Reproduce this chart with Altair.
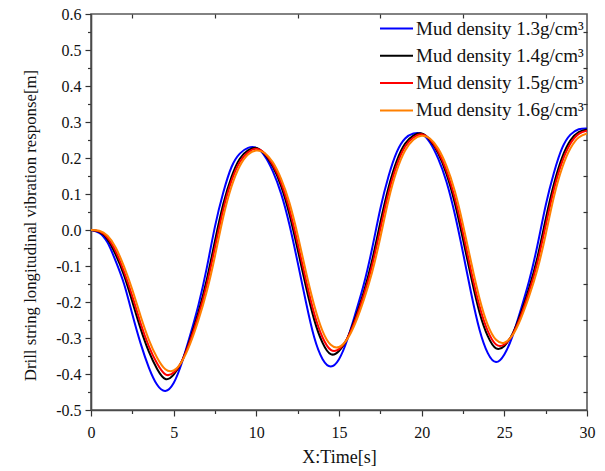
import altair as alt
import pandas as pd

# Sample times [s]
time_s = [0, 0.5, 1, 1.5, 2, 2.5, 3, 3.5, 4, 4.5,
          5, 5.5, 6, 6.5, 7, 7.5, 8, 8.5, 9, 9.5,
          10, 10.5, 11, 11.5, 12, 12.5, 13, 13.5, 14, 14.5,
          15, 15.5, 16, 16.5, 17, 17.5, 18, 18.5, 19, 19.5,
          20, 20.5, 21, 21.5, 22, 22.5, 23, 23.5, 24, 24.5,
          25, 25.5, 26, 26.5, 27, 27.5, 28, 28.5, 29, 29.5, 30]

# Longitudinal vibration response [m] for each mud density
resp_13 = [0, -0.008, -0.035, -0.087, -0.150, -0.234, -0.315, -0.382, -0.430, -0.447,
           -0.425, -0.368, -0.292, -0.208, -0.106, 0.010, 0.104, 0.175, 0.212, 0.228,
           0.228, 0.206, 0.163, 0.101, 0.015, -0.090, -0.200, -0.298, -0.358, -0.379,
           -0.359, -0.305, -0.231, -0.151, -0.052, 0.059, 0.150, 0.217, 0.254, 0.268,
           0.267, 0.243, 0.198, 0.134, 0.045, -0.063, -0.177, -0.277, -0.342, -0.367,
           -0.346, -0.294, -0.221, -0.141, -0.043, 0.068, 0.159, 0.228, 0.265, 0.280, 0.282]
resp_14 = [0, -0.005, -0.026, -0.069, -0.126, -0.199, -0.274, -0.338, -0.386, -0.414,
           -0.402, -0.364, -0.302, -0.228, -0.138, -0.030, 0.072, 0.148, 0.198, 0.221,
           0.228, 0.211, 0.176, 0.122, 0.044, -0.054, -0.157, -0.249, -0.313, -0.345,
           -0.336, -0.301, -0.242, -0.172, -0.085, 0.021, 0.119, 0.193, 0.240, 0.262,
           0.268, 0.250, 0.213, 0.156, 0.076, -0.026, -0.133, -0.229, -0.295, -0.329,
           -0.322, -0.288, -0.231, -0.161, -0.076, 0.030, 0.128, 0.202, 0.249, 0.272, 0.279]
resp_15 = [0, -0.004, -0.022, -0.060, -0.116, -0.184, -0.259, -0.323, -0.371, -0.401,
           -0.396, -0.364, -0.307, -0.237, -0.152, -0.048, 0.057, 0.137, 0.189, 0.216,
           0.226, 0.213, 0.181, 0.131, 0.058, -0.037, -0.139, -0.232, -0.298, -0.333,
           -0.331, -0.301, -0.248, -0.181, -0.099, 0.003, 0.104, 0.181, 0.232, 0.257,
           0.266, 0.252, 0.218, 0.165, 0.090, -0.008, -0.116, -0.212, -0.281, -0.318,
           -0.318, -0.290, -0.238, -0.171, -0.090, 0.012, 0.113, 0.190, 0.240, 0.267, 0.276]
resp_16 = [0, -0.002, -0.016, -0.049, -0.102, -0.166, -0.239, -0.305, -0.355, -0.387,
           -0.390, -0.365, -0.316, -0.250, -0.171, -0.072, 0.036, 0.121, 0.178, 0.210,
           0.221, 0.214, 0.188, 0.142, 0.076, -0.014, -0.116, -0.209, -0.280, -0.319,
           -0.325, -0.303, -0.257, -0.194, -0.118, -0.021, 0.084, 0.166, 0.221, 0.251,
           0.262, 0.254, 0.226, 0.178, 0.109, 0.015, -0.091, -0.190, -0.264, -0.305,
           -0.313, -0.292, -0.246, -0.184, -0.110, -0.013, 0.092, 0.173, 0.227, 0.257, 0.268]

density_labels = ["Mud density 1.3g/cm³", "Mud density 1.4g/cm³",
                  "Mud density 1.5g/cm³", "Mud density 1.6g/cm³"]
line_colors = ["#0000ff", "#000000", "#ff0000", "#ff8000"]

# Tick positions (major + minor)
x_ticks = [0, 2.5, 5, 7.5, 10, 12.5, 15, 17.5, 20, 22.5, 25, 27.5, 30]
x_minor = [2.5, 7.5, 12.5, 17.5, 22.5, 27.5]
y_ticks = [-0.5, -0.45, -0.4, -0.35, -0.3, -0.25, -0.2, -0.15, -0.1, -0.05, 0.0,
           0.05, 0.1, 0.15, 0.2, 0.25, 0.3, 0.35, 0.4, 0.45, 0.5, 0.55, 0.6]
y_minor = [-0.45, -0.35, -0.25, -0.15, -0.05, 0.05, 0.15, 0.25, 0.35, 0.45, 0.55]

rows = []
for label, values in zip(density_labels, [resp_13, resp_14, resp_15, resp_16]):
    for t, v in zip(time_s, values):
        rows.append({"time": t, "response": v, "density": label})
df = pd.DataFrame(rows)

FONT = "Liberation Serif"
AXIS_GREY = "#4a4a4a"

x_scale = alt.Scale(domain=[0, 30], nice=False, zero=False)
y_scale = alt.Scale(domain=[-0.5, 0.6], nice=False, zero=False)

y_major_test = "abs(datum.value * 10 - round(datum.value * 10)) < 0.01"
x_major_test = "datum.value % 5 == 0"

x_axis = alt.Axis(
    values=x_ticks,
    labelExpr=f"{x_major_test} ? format(datum.value, 'd') : ''",
    tickSize={"condition": {"test": x_major_test, "value": 6}, "value": 3.5},
    tickColor="#333333", tickWidth=1.2,
    domainColor=AXIS_GREY, domainWidth=1.6,
    labelFont=FONT, labelFontSize=16, labelColor="#111111", labelPadding=8,
    labelFlush=False, grid=False,
    title="X:Time[s]", titleFont=FONT, titleFontSize=18, titleFontWeight="normal",
    titleColor="#111111", titleX=248, titleY=47, titleBaseline="middle", titleAlign="center",
)
y_axis = alt.Axis(
    values=y_ticks,
    labelExpr=f"{y_major_test} ? replace(format(datum.value, '.1f'), '\u2212', '-') : ''",
    tickSize={"condition": {"test": y_major_test, "value": 6}, "value": 3.5},
    tickColor="#333333", tickWidth=1.2,
    domainColor=AXIS_GREY, domainWidth=1.6,
    labelFont=FONT, labelFontSize=16, labelColor="#111111", labelPadding=4,
    labelFlush=False, grid=False,
    title="Drill string longitudinal vibration response[m]",
    titleFont=FONT, titleFontSize=16.8, titleFontWeight="normal", titleColor="#111111",
    titleX=-61, titleY=211, titleAngle=-90, titleBaseline="middle", titleAlign="center",
)

lines = alt.Chart(df).mark_line(strokeWidth=2, interpolate="natural").encode(
    x=alt.X("time:Q", scale=x_scale, axis=x_axis),
    y=alt.Y("response:Q", scale=y_scale, axis=y_axis),
    color=alt.Color(
        "density:N",
        scale=alt.Scale(domain=density_labels, range=line_colors),
        legend=alt.Legend(
            title=None, orient="none", legendX=296, legendY=5,
            symbolType="M-3,0H3", symbolSize=121, symbolStrokeWidth=2,
            labelFont=FONT, labelFontSize=19, labelColor="#111111",
            labelOffset=10, rowPadding=7.3, padding=0, labelLimit=300,
        ),
    ),
)

# Inward minor ticks on the top and right frame edges
frame_ticks = alt.Chart(df).mark_line(opacity=0).encode(
    x=alt.X("time:Q", scale=x_scale,
            axis=alt.Axis(orient="top", values=x_minor, labels=False, domain=False,
                          tickSize=4, offset=-4, tickColor="#333333", tickWidth=1.2,
                          grid=False, title=None)),
    y=alt.Y("response:Q", scale=y_scale,
            axis=alt.Axis(orient="right", values=y_minor, labels=False, domain=False,
                          tickSize=4, offset=-4, tickColor="#333333", tickWidth=1.2,
                          grid=False, title=None)),
    detail="density:N",
)

chart = (
    alt.layer(lines, frame_ticks)
    .resolve_axis(x="independent", y="independent")
    .properties(
        width=496, height=396,
        padding={"left": 91, "top": 14, "right": 18, "bottom": 61},
        autosize=alt.AutoSizeParams(type="none"),
        background="white",
    )
    .configure(font=FONT)
    .configure_axis(labelFont=FONT, titleFont=FONT)
    .configure_legend(labelFont=FONT)
    .configure_view(stroke="#5a5a5a", strokeWidth=1.6)
)

chart.save("out.html", embed_options={"renderer": "svg", "actions": False})
